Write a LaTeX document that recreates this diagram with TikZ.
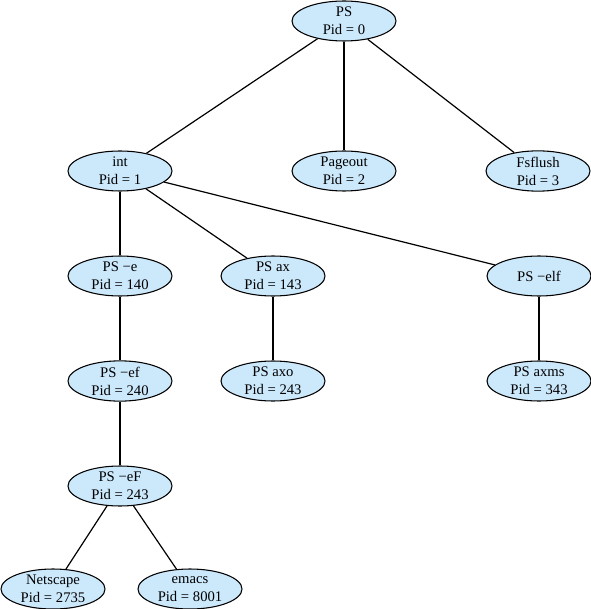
\documentclass[tikz,border=0pt]{standalone}
\usepackage{fontspec}
\setmainfont{Liberation Serif}
\usetikzlibrary{shapes.geometric}
\definecolor{procblue}{RGB}{204,232,251}

\begin{document}
\begin{tikzpicture}[x=0.75pt, y=-0.75pt]
              \tikzset{proc/.style={ellipse, draw, line width=0.8pt, fill=procblue, minimum width=78pt, minimum height=30pt,
                  inner sep=0pt, align=center, font=\fontsize{11}{13.5}\selectfont},
                link/.style={line width=0.9pt}}

              \useasboundingbox (0,0) rectangle (590,609);

              \def\A{21}
              \def\B{171}
              \def\C{276}
              \def\D{381}
              \def\E{486}
              \def\F{589}

              \node[proc] (ps) at (344,\A) {PS\\Pid = 0};

              \node[proc] (init) at (120,\B) {int\\Pid = 1};
              \node[proc] (pageout) at (344,\B) {Pageout\\Pid = 2};
              \node[proc] (fsflush) at (538,\B) {Fsflush\\Pid = 3};

              \node[proc] (pse) at (120,\C) {PS −e\\Pid = 140};
              \node[proc] (psax) at (273,\C) {PS ax\\Pid = 143};
              \node[proc] (pself) at (539,\C) {PS −elf};

              \node[proc] (psef) at (120,\D) {PS −ef\\Pid = 240};
              \node[proc] (psaxo) at (273,\D) {PS axo\\Pid = 243};
              \node[proc] (psaxms) at (539,\D) {PS axms\\Pid = 343};

              \node[proc] (pseF) at (120,\E) {PS −eF\\Pid = 243};

              \node[proc] (netscape) at (53,\F) {Netscape\\Pid = 2735};
              \node[proc] (emacs) at (190,\F) {emacs\\Pid = 8001};

              \draw[link] (ps) -- (init);
              \draw[link] (ps) -- (pageout);
              \draw[link] (ps) -- (fsflush);

              \draw[link] (init) -- (pse);
              \draw[link] (init) -- (psax);
              \draw[link] (init) -- (pself);

              \draw[link] (pse) -- (psef);
              \draw[link] (psef) -- (pseF);
              \draw[link] (psax) -- (psaxo);
              \draw[link] (pself) -- (psaxms);

              \draw[link] (pseF) -- (netscape);
              \draw[link] (pseF) -- (emacs);
            \end{tikzpicture}
\end{document}
